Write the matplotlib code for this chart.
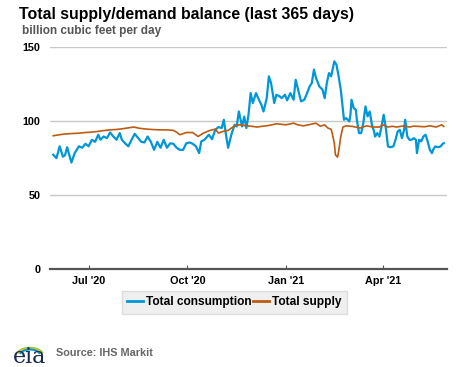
import matplotlib
matplotlib.use("Agg")
import matplotlib.pyplot as plt
import numpy as np
import pandas as pd

# daily natural gas balance, bcf/d
start = pd.Timestamp("2020-05-29")

cons_day = [0, 3, 6, 9, 11, 13, 15, 17, 20, 24, 27, 30, 33, 36, 39, 42, 44, 47, 50, 53,
            56, 59, 62, 64, 67, 70, 73, 76, 78, 82, 85, 88, 91, 94, 97, 100, 103, 106, 109, 112,
            115, 118, 121, 124, 127, 130, 133, 136, 138, 141, 145, 148, 151, 154, 157, 159, 161, 163, 166, 169,
            171, 173, 176, 178, 180, 182, 184, 186, 189, 191, 194, 196, 199, 201, 203, 206, 208, 211, 213, 216,
            218, 221, 224, 226, 229, 231, 234, 236, 239, 241, 243, 245, 248, 251, 253, 255, 257, 259, 261, 262,
            264, 266, 268, 270, 271, 273, 276, 277, 278, 280, 282, 283, 285, 287, 289, 291, 293, 295, 297, 299,
            300, 302, 304, 306, 308, 310, 312, 314, 317, 319, 321, 323, 325, 327, 328, 330, 332, 334, 336, 338,
            339, 341, 343, 345, 347, 349, 351, 353, 354, 356, 359, 361, 363, 364]
consumption = [77.3, 75.0, 83.0, 76.0, 77.0, 82.4, 77.0, 72.0, 78.4, 83.0, 82.0, 84.7, 83.0, 87.4, 86.0, 90.8, 87.4, 89.6, 88.5, 92.3,
               89.6, 87.4, 91.9, 87.4, 85.0, 83.0, 87.4, 91.4, 89.6, 86.0, 85.6, 89.6, 86.0, 80.6, 86.0, 82.0, 87.4, 82.0, 85.0, 84.7,
               82.0, 80.6, 80.6, 85.0, 85.6, 84.7, 83.0, 78.4, 86.3, 87.4, 90.8, 87.8, 94.0, 96.0, 95.3, 100.9, 90.8, 82.0, 90.8, 97.5,
               96.4, 106.5, 96.4, 103.0, 95.3, 104.3, 118.9, 112.2, 118.9, 115.5, 111.0, 106.5, 115.5, 130.2, 125.7, 112.2, 117.8, 116.7, 115.5, 117.8,
               114.0, 118.9, 114.4, 127.9, 118.9, 113.3, 114.4, 117.8, 123.4, 125.7, 134.7, 129.0, 123.4, 121.2, 115.5, 125.7, 132.4, 130.2, 136.9, 140.3,
               138.0, 130.2, 121.2, 107.7, 100.9, 102.0, 99.8, 104.3, 114.4, 108.8, 107.7, 100.9, 91.9, 91.9, 98.6, 109.9, 103.2, 106.5, 97.5, 93.0,
               89.6, 91.9, 89.6, 96.4, 104.3, 95.3, 82.9, 82.4, 82.9, 87.4, 93.0, 94.1, 88.5, 94.1, 100.9, 89.6, 87.4, 87.4, 88.5, 87.4,
               78.4, 87.4, 86.3, 89.6, 90.8, 86.3, 80.6, 78.4, 80.6, 82.9, 82.4, 82.9, 84.7, 85.1]

supply_day = [0, 4, 10, 15, 20, 25, 30, 35, 41, 47, 53, 58, 62, 68, 75, 80, 87, 93, 98, 103,
              108, 112, 115, 118, 121, 124, 130, 135, 140, 146, 151, 154, 158, 163, 169, 174, 180, 185, 190, 195,
              199, 204, 208, 213, 217, 220, 224, 228, 233, 238, 242, 245, 249, 253, 256, 259, 260, 262, 263, 265,
              266, 268, 270, 273, 279, 283, 286, 292, 298, 304, 307, 312, 316, 320, 327, 332, 336, 341, 346, 351,
              357, 362, 364]
supply = [90.1, 90.6, 91.2, 91.5, 91.7, 91.9, 92.3, 92.5, 93.0, 93.6, 94.1, 94.3, 94.6, 95.2, 96.0, 95.2, 94.6, 94.3, 94.1, 94.1,
          94.0, 93.7, 92.5, 90.8, 91.5, 92.3, 92.3, 89.6, 91.9, 93.7, 94.6, 91.9, 93.0, 93.7, 96.8, 97.5, 96.8, 96.5, 96.0, 96.5,
          96.8, 97.5, 98.2, 97.8, 97.5, 98.0, 98.6, 97.5, 96.8, 97.5, 98.2, 98.6, 96.5, 97.5, 95.3, 94.5, 91.9, 85.0, 77.3, 75.7,
          79.5, 89.6, 96.0, 96.8, 96.4, 95.8, 95.3, 96.8, 96.0, 96.0, 97.5, 96.0, 96.5, 96.0, 96.8, 96.0, 96.6, 96.4, 96.2, 96.8,
          96.0, 97.5, 96.4]

tick_dates = ["2020-07-01", "2020-10-01", "2021-01-01", "2021-04-01"]
tick_labels = ["Jul '20", "Oct '20", "Jan '21", "Apr '21"]
y_ticks = [0, 50, 100, 150]

blue = "#0096d7"
orange = "#bd5b12"

plt.rcParams["font.family"] = ["Liberation Sans", "DejaVu Sans"]

fig = plt.figure(figsize=(4.77, 3.67), dpi=100)
ax = fig.add_axes([50 / 477, 1 - 269.3 / 367, 397 / 477, (269.3 - 47) / 367])

cons_dates = start + pd.to_timedelta(cons_day, unit="D")
sup_dates = start + pd.to_timedelta(supply_day, unit="D")

l1, = ax.plot(cons_dates, consumption, color=blue, lw=1.6, solid_joinstyle="round", zorder=3)
l2, = ax.plot(sup_dates, supply, color=orange, lw=1.2, solid_joinstyle="round", zorder=4)

ax.set_ylim(0, 150)
ax.set_xlim(start - pd.Timedelta(days=3), start + pd.Timedelta(days=367))
ax.set_yticks(y_ticks)
ax.set_yticklabels([str(v) for v in y_ticks], fontsize=7.8, fontweight="bold")
ax.set_xticks(pd.to_datetime(tick_dates))
ax.set_xticklabels(tick_labels, fontsize=7.8, fontweight="bold")
ax.tick_params(axis="y", length=0, pad=7)
ax.tick_params(axis="x", direction="in", length=3, color="#555555", pad=5)
ax.grid(axis="y", color="#c8c8c8", lw=1)
for s in ["top", "right", "left"]:
    ax.spines[s].set_visible(False)
ax.spines["bottom"].set_color("#555555")
ax.spines["bottom"].set_linewidth(1.6)
ax.set_axisbelow(True)

fig.text(19 / 477, 1 - 14 / 367, "Total supply/demand balance (last 365 days)",
         fontsize=11.4, fontweight="bold", va="center", ha="left")
fig.text(22 / 477, 1 - 31 / 367, "billion cubic feet per day",
         fontsize=8.5, fontweight="bold", color="#555555", va="center", ha="left")

leg = fig.legend([l1, l2], ["Total consumption", "Total supply"], ncol=2,
                 loc="center", bbox_to_anchor=(234.5 / 477, 1 - 302.5 / 367),
                 prop={"size": 8.6, "weight": "bold"}, handlelength=1.3,
                 handletextpad=0.3, columnspacing=0.1, fancybox=False,
                 borderpad=0.45, framealpha=1)
leg.get_frame().set_facecolor("#efefef")
leg.get_frame().set_edgecolor("#dddddd")
for h in leg.legend_handles:
    h.set_linewidth(2)

# eia logo, roughly
lax = fig.add_axes([14 / 477, 1 - 365 / 367, 32 / 477, 28 / 367])
lax.set_xlim(0, 32)
lax.set_ylim(0, 28)
lax.axis("off")
t = np.linspace(0.12, 0.88, 30)
for r, c in [(13, "#8dc63f"), (11.5, "#f2c21b"), (10, "#0096d7")]:
    lax.plot(16 + r * np.cos(np.pi * t), 10 + r * np.sin(np.pi * t) * 0.55,
             color=c, lw=1.5)
lax.text(16, 8, "eia", fontsize=16, family="DejaVu Serif", color="#1d2b4f",
         ha="center", va="center")

fig.text(56 / 477, 1 - 353 / 367, "Source: IHS Markit", fontsize=7.8,
         fontweight="bold", color="#666666", va="center", ha="left")

fig.savefig("out.png", dpi=100)
